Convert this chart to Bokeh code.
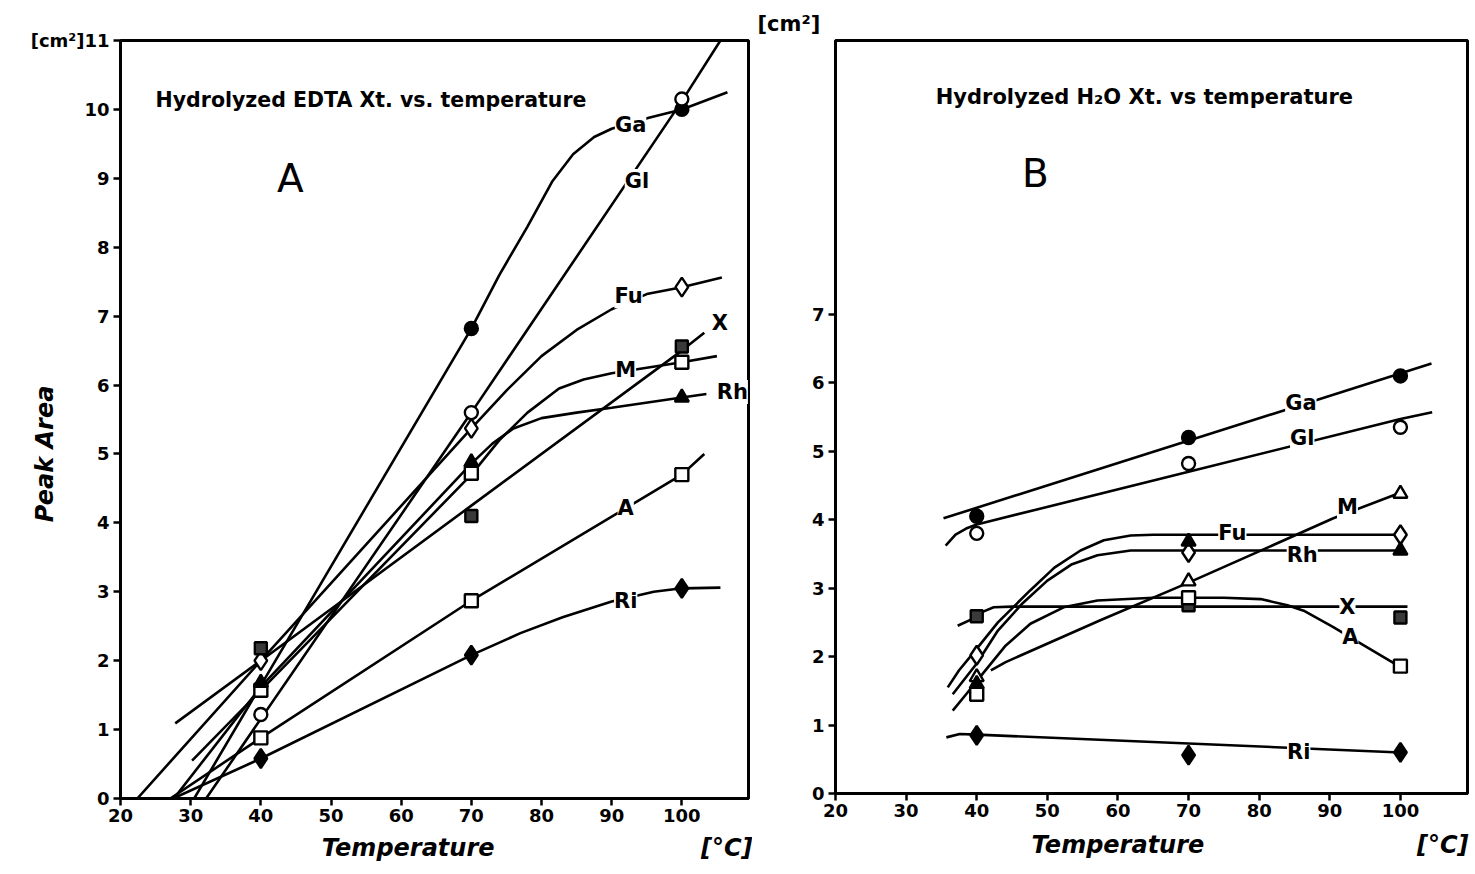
from bokeh.plotting import figure
from bokeh.layouts import row
from bokeh.models import Label, FixedTicker, Range1d, LinearAxis, Title
from bokeh.embed import file_html
from bokeh.resources import INLINE

# ---------------- DATA ----------------
temps = [40, 70, 100]

# Panel A: Hydrolyzed EDTA Xt. -- measured points
A_pts = {
    "Ga": ([70, 100], [6.82, 10.0]),
    "Gl": (temps, [1.22, 5.6, 10.15]),
    "Fu": (temps, [2.0, 5.37, 7.42]),
    "X":  (temps, [2.18, 4.1, 6.56]),
    "M":  (temps, [1.57, 4.72, 6.33]),
    "Rh": (temps, [1.68, 4.88, 5.82]),
    "A":  (temps, [0.88, 2.87, 4.7]),
    "Ri": (temps, [0.58, 2.08, 3.05]),
}
# Panel A -- hand-drawn fitted curves
A_curves = {
    "Ga": ([30.5, 70, 74, 78, 81.5, 84.5, 87.5, 90, 95.3, 100, 106.5],
           [0.0, 6.82, 7.6, 8.3, 8.95, 9.35, 9.6, 9.72, 9.88, 10.0, 10.25]),
    "Gl": ([32.2, 70, 100, 105.5], [0.0, 5.6, 10.12, 11.0]),
    "Fu": ([22.4, 40, 70, 75, 80, 85, 90, 95, 100, 105.7],
           [0.0, 2.0, 5.37, 5.92, 6.42, 6.8, 7.1, 7.32, 7.42, 7.56]),
    "X":  ([27.8, 40, 70, 100, 103.2], [1.09, 2.0, 4.25, 6.5, 6.76]),
    "M":  ([30.2, 40, 70, 74, 78, 82.5, 86, 90, 95, 100, 105],
           [0.55, 1.57, 4.7, 5.2, 5.6, 5.95, 6.08, 6.17, 6.25, 6.33, 6.42]),
    "Rh": ([27.6, 40, 70, 73, 76, 80, 85, 90, 100, 103.5],
           [0.0, 1.62, 4.86, 5.15, 5.37, 5.52, 5.6, 5.67, 5.82, 5.87]),
    "A":  ([27.1, 40, 70, 100, 103.2], [0.0, 0.88, 2.87, 4.7, 5.0]),
    "Ri": ([27.5, 40, 70, 77, 83, 90, 96, 100, 105.5],
           [0.0, 0.58, 2.08, 2.4, 2.63, 2.86, 3.0, 3.05, 3.06]),
}
A_label_x = {"Ga": 92.7, "Gl": 93.6, "Fu": 92.4, "X": 105.4, "M": 92.0, "Rh": 107.2, "A": 92.0, "Ri": 92.0}
A_label_y = {"Ga": 9.77, "Gl": 8.96, "Fu": 7.29, "X": 6.9, "M": 6.22, "Rh": 5.9, "A": 4.22, "Ri": 2.86}

# Panel B: Hydrolyzed H2O Xt. -- measured points
B_pts = {
    "Ga": (temps, [4.05, 5.2, 6.1]),
    "Gl": (temps, [3.8, 4.82, 5.35]),
    "M":  (temps, [1.7, 3.1, 4.38]),
    "Fu": (temps, [2.02, 3.52, 3.78]),
    "Rh": (temps, [1.6, 3.68, 3.55]),
    "X":  (temps, [2.59, 2.75, 2.57]),
    "A":  (temps, [1.45, 2.86, 1.86]),
    "Ri": (temps, [0.85, 0.56, 0.6]),
}
B_curves = {
    "Ga": ([35.3, 104.4], [4.02, 6.28]),
    "Gl": ([35.6, 37.0, 38.5, 40, 70, 100, 104.5], [3.62, 3.78, 3.87, 3.93, 4.7, 5.47, 5.57]),
    "Fu": ([35.9, 37.5, 39.5, 43, 47.6, 51, 54.7, 58, 61.8, 65, 100],
           [1.55, 1.8, 2.05, 2.5, 2.97, 3.3, 3.55, 3.7, 3.77, 3.78, 3.78]),
    "Rh": ([36.6, 40, 43, 46.5, 50, 53.5, 57.1, 61.8, 100],
           [1.45, 1.9, 2.38, 2.78, 3.11, 3.35, 3.48, 3.55, 3.55]),
    "X":  ([37.3, 39.8, 41, 42.4, 45, 101], [2.45, 2.57, 2.66, 2.72, 2.73, 2.73]),
    "A":  ([36.6, 38.5, 41, 44, 47.6, 52.3, 57.1, 65, 75, 80.2, 84, 86.3, 90.5, 94.4, 99.6],
           [1.21, 1.45, 1.77, 2.15, 2.48, 2.72, 2.82, 2.86, 2.86, 2.84, 2.75, 2.67, 2.43, 2.19, 1.87]),
    "M":  ([42.0, 44.1, 57.5, 70, 90.5, 99.6], [1.8, 1.92, 2.53, 3.08, 4.02, 4.38]),
    "Ri": ([35.7, 37.6, 40, 100], [0.82, 0.87, 0.86, 0.6]),
}
B_label_x = {"Ga": 85.9, "Gl": 86.1, "M": 92.5, "Fu": 76.2, "Rh": 86.1, "X": 92.5, "A": 92.9, "Ri": 85.6}
B_label_y = {"Ga": 5.7, "Gl": 5.2, "M": 4.18, "Fu": 3.81, "Rh": 3.49, "X": 2.73, "A": 2.28, "Ri": 0.61}

x_ticks = [20, 30, 40, 50, 60, 70, 80, 90, 100]
A_y_ticks = list(range(0, 12))
B_y_ticks = list(range(0, 8))

# axis-title texts and where they sit (tick positions of helper axes)
A_xtitle = {61: "Temperature", 107: "[\u00b0C]"}
B_xtitle = {60: "Temperature", 106: "[\u00b0C]"}
A_ytitle = {5: "Peak Area"}

# ---------------- STYLES ----------------
FONT = "DejaVu Sans"
A_marker = {"Ga": ("circle", "black", 13), "Gl": ("circle", "white", 13),
            "Fu": ("diamond", "white", 19), "X": ("square", "#3a3a3a", 12),
            "M": ("square", "white", 13), "Rh": ("triangle", "black", 14),
            "A": ("square", "white", 13), "Ri": ("diamond", "black", 19)}
B_marker = dict(A_marker)
B_marker["M"] = ("triangle", "white", 14)


def base_fig(frame_w, frame_h, left, right, top, bottom, xr, yr, yticks):
    p = figure(frame_width=frame_w, frame_height=frame_h, output_backend="svg",
               toolbar_location=None, x_range=Range1d(*xr), y_range=Range1d(*yr),
               min_border_left=left, min_border_right=right,
               min_border_top=top, min_border_bottom=bottom)
    p.background_fill_color = "white"
    p.border_fill_color = "white"
    p.xgrid.visible = False
    p.ygrid.visible = False
    p.outline_line_color = "black"
    p.outline_line_width = 3
    p.xaxis.ticker = FixedTicker(ticks=x_ticks)
    p.yaxis.ticker = FixedTicker(ticks=yticks)
    for ax in (p.xaxis[0], p.yaxis[0]):
        ax.axis_line_width = 3
        ax.axis_line_color = "black"
        ax.major_tick_line_width = 2.5
        ax.major_tick_line_color = "black"
        ax.major_tick_out = 7
        ax.major_tick_in = 0
        ax.minor_tick_line_color = None
        ax.major_label_text_font = FONT
        ax.major_label_text_font_style = "bold"
        ax.major_label_text_font_size = "18px"
        ax.major_label_text_color = "black"
    p.xaxis.major_label_standoff = 3
    p.yaxis.major_label_standoff = 4
    return p


def title_axis(p, side, overrides, standoff, orientation="horizontal"):
    ax = LinearAxis(ticker=FixedTicker(ticks=list(overrides.keys())),
                    major_label_overrides=overrides,
                    axis_line_color=None, major_tick_line_color=None,
                    minor_tick_line_color=None, major_tick_out=0, major_tick_in=0,
                    major_label_standoff=standoff,
                    major_label_orientation=orientation,
                    major_label_text_font=FONT,
                    major_label_text_font_style="bold italic",
                    major_label_text_font_size="24px",
                    major_label_text_color="black")
    p.add_layout(ax, side)


def draw_series(p, pts, curves, lx, ly, markers):
    for name, (cx, cy) in curves.items():
        p.line(cx, cy, line_color="black", line_width=2.6)
    for name, (px, py) in pts.items():
        mk, fill, size = markers[name]
        p.scatter(px, py, marker=mk, size=size, fill_color=fill,
                  line_color="black", line_width=2.4)
    for name in lx:
        p.add_layout(Label(x=lx[name], y=ly[name], text=name, text_font=FONT,
                           text_font_style="bold", text_font_size="21px",
                           text_align="center", text_baseline="middle",
                           text_color="black", background_fill_color="white"))


def text(p, x, y, s, size, style="bold", align="left"):
    p.add_layout(Label(x=x, y=y, text=s, text_font=FONT, text_font_style=style,
                       text_font_size=size, text_align=align, text_baseline="middle",
                       text_color="black"))


# ---------------- PANEL A ----------------
pA = base_fig(628, 758, 120, 4, 40, 76, (20, 109.5), (0, 11), A_y_ticks)
pA.yaxis.major_label_overrides = {11: "[cm\u00b2]11"}
draw_series(pA, A_pts, A_curves, A_label_x, A_label_y, A_marker)
text(pA, 25.0, 10.13, "Hydrolyzed  EDTA Xt. vs. temperature", "20.5px")
text(pA, 44.2, 9.0, "A", "39px", style="normal", align="center")
title_axis(pA, "below", A_xtitle, 9)
title_axis(pA, "left", A_ytitle, -32, orientation="vertical")

# ---------------- PANEL B ----------------
pB = base_fig(632, 753, 83, 8, 40, 81, (20, 109.5), (0, 11), B_y_ticks)
draw_series(pB, B_pts, B_curves, B_label_x, B_label_y, B_marker)
text(pB, 34.2, 10.17, "Hydrolyzed  H\u2082O Xt. vs temperature", "21px")
text(pB, 48.3, 9.06, "B", "39px", style="normal", align="center")
title_axis(pB, "below", B_xtitle, 11)
pB.add_layout(Title(text="[cm\u00b2]", align="left", offset=-78, standoff=10,
                    text_font=FONT, text_font_style="bold", text_font_size="21px",
                    text_color="black"), "above")

layout = row(pA, pB)
open("out.html", "w").write(file_html(layout, INLINE))
